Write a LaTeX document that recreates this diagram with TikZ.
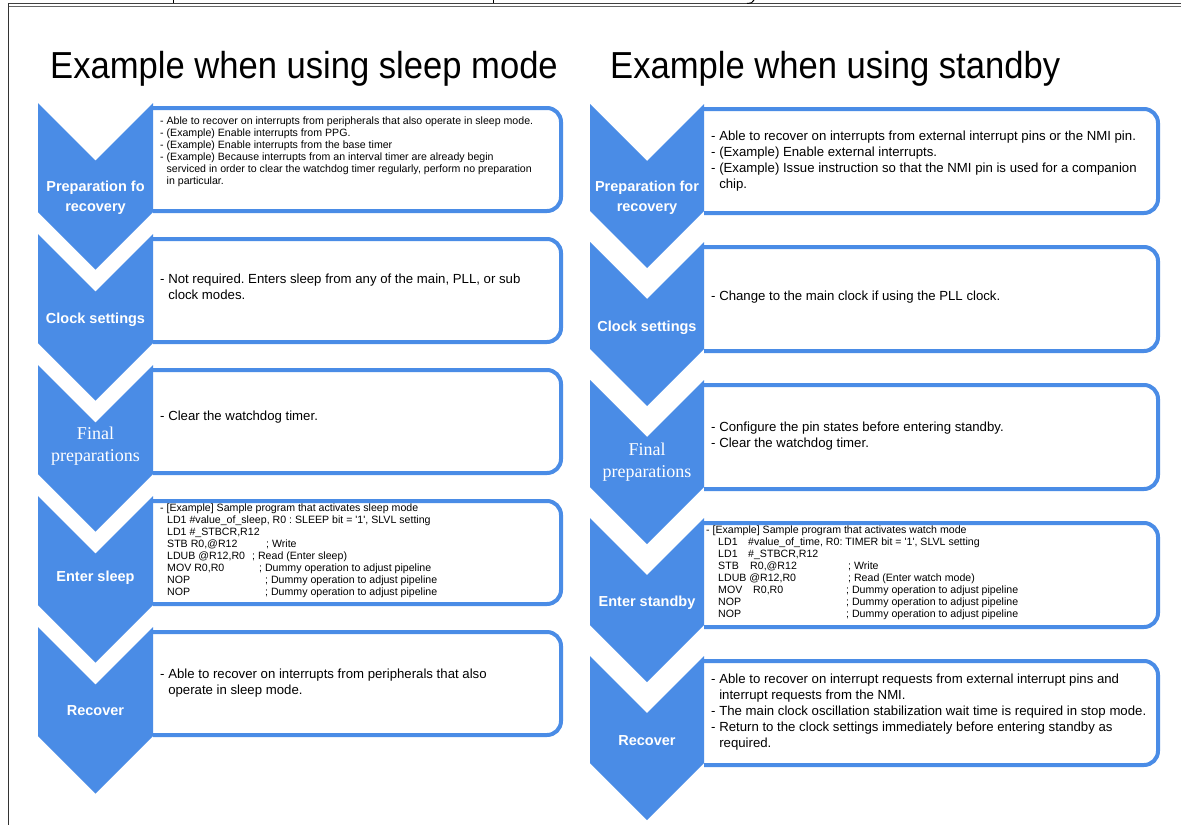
\documentclass[tikz,border=0pt]{standalone}
\usepackage{fontspec}
\setmainfont{Liberation Sans}
\newfontfamily\timesfont{Liberation Serif}
\newfontfamily\titlefont[FakeStretch=0.92]{Liberation Sans}
\usepackage{xcolor}
\usepackage{tikz}
\usetikzlibrary{calc}

\definecolor{chevblue}{RGB}{74,140,230}

\tikzset{
    chevron/.style={fill=chevblue, draw=none},
    notebox/.style={draw=chevblue, line width=4pt, fill=white, rounded corners=14pt},
    steplabel/.style={text=white, inner sep=0pt, align=center,
        font=\fontsize{14.5}{19.5}\selectfont\bfseries},
    seriflabel/.style={text=white, inner sep=0pt, align=center,
        font=\fontsize{18}{22}\timesfont},
    note/.style={inner sep=0pt, align=left, anchor=north west,
        font=\fontsize{13.2}{16}\selectfont},
    smallnote/.style={inner sep=0pt, align=left, anchor=north west,
        font=\fontsize{10.6}{11.9}\selectfont},
    headline/.style={inner sep=0pt, anchor=base west,
        font=\fontsize{37.6}{40}\titlefont},
}

\begin{document}
\frenchspacing
\begin{tikzpicture}[x=1pt, y=-1pt]

\fill[white] (0,0) rectangle (1181,825);
\useasboundingbox (0,0) rectangle (1181,825);

% ============================================================
% frame of the page (cut at the top)
% ============================================================

\draw[black!75, line width=1.2pt] (8,3.5) -- (1181,3.5);
\draw[black!60, line width=0.8pt] (8,6.2) -- (1181,6.2);
\draw[black!80, line width=1.2pt] (8.5,3) -- (8.5,825);
\draw[black, line width=1pt] (173,0) -- (173,3);
\draw[black, line width=1pt] (493,0) -- (493,3);
\draw[black, line width=1pt] (754,0) .. controls (752,3) .. (747,3.5);

\node[headline] (lhead) at (50,78) {Example when using sleep mode};
\node[headline] (rhead) at (610,78) {Example when using standby};

% ============================================================
% LEFT COLUMN: sleep mode
% ============================================================

\foreach \t in {103,234,365,496,627} {
    \draw[notebox] (153,\t+5) -- (561,\t+5) -- (561,\t+108) -- (153,\t+108);
    \fill[chevron] (38,\t) -- (95.5,\t+57.5) -- (153,\t) -- (153,\t+109)
        -- (95.5,\t+166.5) -- (38,\t+109) -- cycle;
}

\node[steplabel] (lprep)    at (95.5,197.5) {Preparation fo\\recovery};
\node[steplabel] (lclock)   at (95.5,320)   {Clock settings};
\node[seriflabel] (lfinal)  at (95.5,446)   {Final\\preparations};
\node[steplabel] (lenter)   at (95.5,578)   {Enter sleep};
\node[steplabel] (lrecover) at (95.5,711)   {Recover};

\node[smallnote] (lprepnote) at (160,117)
    {- Able to recover on interrupts from peripherals that also operate in sleep mode.\\
     - (Example) Enable interrupts from PPG.\\
     - (Example) Enable interrupts from the base timer\\
     - (Example) Because interrupts from an interval timer are already begin\\
     \phantom{- }serviced in order to clear the watchdog timer regularly, perform no preparation\\
     \phantom{- }in particular.};

\node[note] (lclocknote) at (160,274)
    {- Not required. Enters sleep from any of the main, PLL, or sub\\
     \phantom{- }clock modes.};

\node[note] (lfinalnote) at (160,411) {- Clear the watchdog timer.};

\node[smallnote] (lenternote) at (160,504)
    {- [Example] Sample program that activates sleep mode\\
     \hspace*{7pt}LD1 \#value\_of\_sleep, R0 : SLEEP bit = \textquotesingle1\textquotesingle, SLVL setting\\
     \hspace*{7pt}LD1 \#\_STBCR,R12\\
     \hspace*{7pt}\makebox[99pt][l]{STB R0,@R12}; Write\\
     \hspace*{7pt}\makebox[85pt][l]{LDUB @R12,R0}; Read (Enter sleep)\\
     \hspace*{7pt}\makebox[92pt][l]{MOV R0,R0}; Dummy operation to adjust pipeline\\
     \hspace*{7pt}\makebox[98pt][l]{NOP}; Dummy operation to adjust pipeline\\
     \hspace*{7pt}\makebox[98pt][l]{NOP}; Dummy operation to adjust pipeline};

\node[note] (lrecovernote) at (160,669)
    {- Able to recover on interrupts from peripherals that also\\
     \phantom{- }operate in sleep mode.};

% ============================================================
% RIGHT COLUMN: standby
% ============================================================

\foreach \t in {104,242,380,518,656} {
    \draw[notebox] (704,\t+5) -- (1158,\t+5) -- (1158,\t+109) -- (704,\t+109);
    \fill[chevron] (590,\t) -- (647,\t+57) -- (704,\t) -- (704,\t+107)
        -- (647,\t+164) -- (590,\t+107) -- cycle;
}

\node[steplabel] (rprep)    at (647,197.5) {Preparation for\\recovery};
\node[steplabel] (rclock)   at (647,328)   {Clock settings};
\node[seriflabel] (rfinal)  at (647,462)   {Final\\preparations};
\node[steplabel] (renter)   at (647,603)   {Enter standby};
\node[steplabel] (rrecover) at (647,741)   {Recover};

\node[note] (rprepnote) at (711,131)
    {- Able to recover on interrupts from external interrupt pins or the NMI pin.\\
     - (Example) Enable external interrupts.\\
     - (Example) Issue instruction so that the NMI pin is used for a companion\\
     \phantom{- }chip.};

\node[note] (rclocknote) at (711,291)
    {- Change to the main clock if using the PLL clock.};

\node[note] (rfinalnote) at (711,422)
    {- Configure the pin states before entering standby.\\
     - Clear the watchdog timer.};

\node[smallnote] (renternote) at (706,526)
    {- [Example] Sample program that activates watch mode\\
     \hspace*{12pt}\makebox[30pt][l]{LD1}\#value\_of\_time, R0: TIMER bit = \textquotesingle1\textquotesingle, SLVL setting\\
     \hspace*{12pt}\makebox[30pt][l]{LD1}\#\_STBCR,R12\\
     \hspace*{12pt}\makebox[130pt][l]{\makebox[32pt][l]{STB}R0,@R12}; Write\\
     \hspace*{12pt}\makebox[130pt][l]{LDUB @R12,R0}; Read (Enter watch mode)\\
     \hspace*{12pt}\makebox[128pt][l]{\makebox[35pt][l]{MOV}R0,R0}; Dummy operation to adjust pipeline\\
     \hspace*{12pt}\makebox[128pt][l]{NOP}; Dummy operation to adjust pipeline\\
     \hspace*{12pt}\makebox[128pt][l]{NOP}; Dummy operation to adjust pipeline};

\node[note] (rrecovernote) at (711,674)
    {- Able to recover on interrupt requests from external interrupt pins and\\
     \phantom{- }interrupt requests from the NMI.\\
     - The main clock oscillation stabilization wait time is required in stop mode.\\
     - Return to the clock settings immediately before entering standby as\\
     \phantom{- }required.};

\end{tikzpicture}
\end{document}
